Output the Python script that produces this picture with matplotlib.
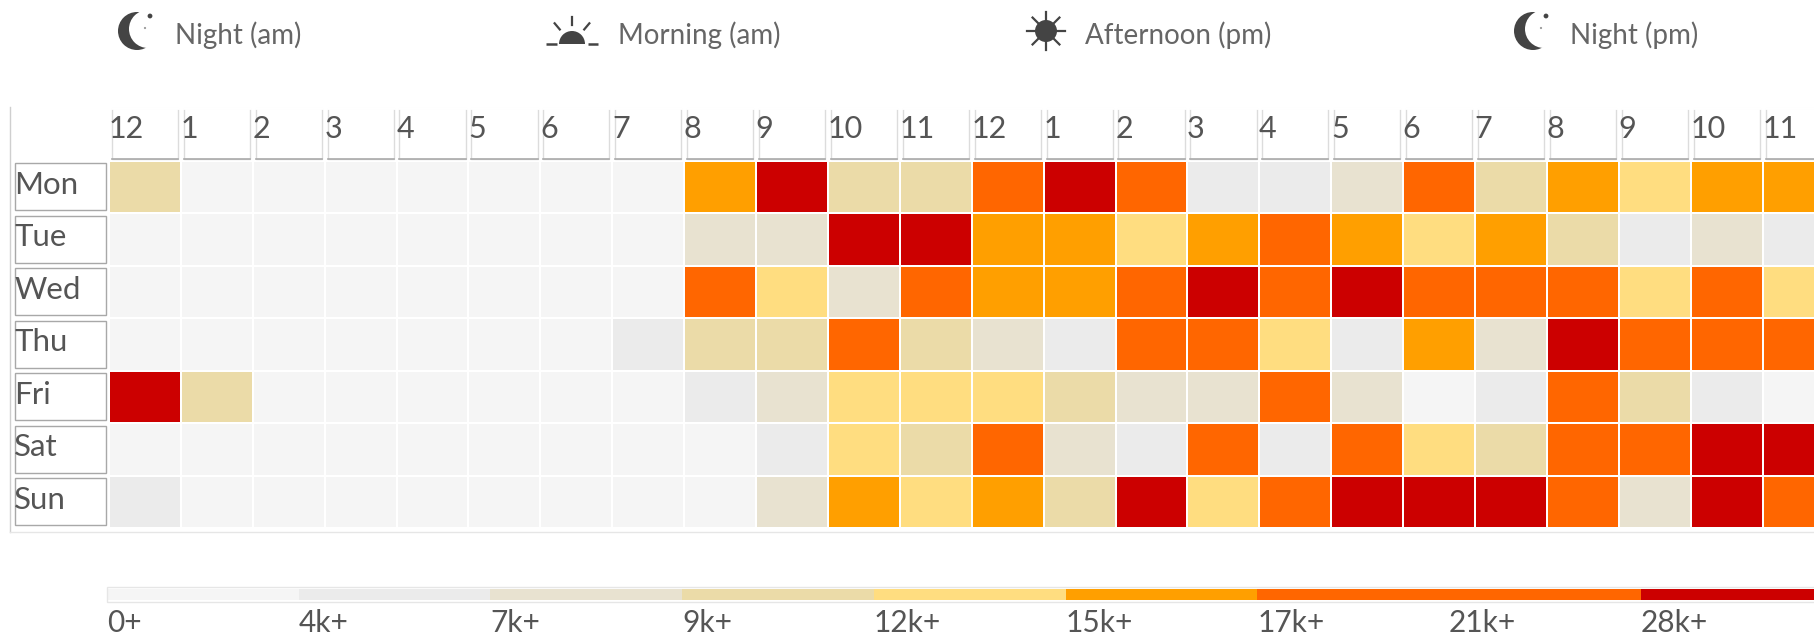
import numpy as np
import matplotlib
matplotlib.use('Agg')
import matplotlib.pyplot as plt
from matplotlib.colors import ListedColormap
from matplotlib.patches import Circle, Rectangle, Wedge

W, H = 1815, 635

days = ['Mon', 'Tue', 'Wed', 'Thu', 'Fri', 'Sat', 'Sun']
hours = ['12', '1', '2', '3', '4', '5', '6', '7', '8', '9', '10', '11',
         '12', '1', '2', '3', '4', '5', '6', '7', '8', '9', '10', '11']
# index into bucket_labels
mon = [3, 0, 0, 0, 0, 0, 0, 0, 5, 8, 3, 3, 7, 8, 7, 1, 1, 2, 7, 3, 5, 4, 5, 5]
tue = [0, 0, 0, 0, 0, 0, 0, 0, 2, 2, 8, 8, 5, 5, 4, 5, 7, 5, 4, 5, 3, 1, 2, 1]
wed = [0, 0, 0, 0, 0, 0, 0, 0, 7, 4, 2, 7, 5, 5, 7, 8, 7, 8, 7, 7, 7, 4, 7, 4]
thu = [0, 0, 0, 0, 0, 0, 0, 1, 3, 3, 7, 3, 2, 1, 7, 7, 4, 1, 5, 2, 8, 7, 7, 7]
fri = [8, 3, 0, 0, 0, 0, 0, 0, 1, 2, 4, 4, 4, 3, 2, 2, 7, 2, 0, 1, 7, 3, 1, 0]
sat = [0, 0, 0, 0, 0, 0, 0, 0, 0, 1, 4, 3, 7, 2, 1, 7, 1, 7, 4, 3, 7, 7, 8, 8]
sun = [1, 0, 0, 0, 0, 0, 0, 0, 0, 2, 5, 4, 5, 3, 8, 4, 7, 8, 8, 8, 7, 2, 8, 7]
bucket_labels = ['0+', '4k+', '7k+', '9k+', '12k+', '15k+', '17k+', '21k+', '28k+']
bucket_colors = ['#f5f5f5', '#ebebeb', '#e8e2d0', '#ebdba8', '#ffdd80',
                 '#ff9f00', '#ff6600', '#ff6600', '#cc0000']
periods = ['Night (am)', 'Morning (am)', 'Afternoon (pm)', 'Night (pm)']

plt.rcParams['font.family'] = ['Lato', 'DejaVu Sans']
TXT = '#555555'
ICON = '#444444'


def px_axes(fig, x0, y0, x1, y1):
    # position given in image pixels, y going down
    return fig.add_axes([x0 / W, 1 - y1 / H, (x1 - x0) / W, (y1 - y0) / H])


def draw_moon(ax, cx, cy):
    ax.add_patch(Circle((cx, cy), 19, color=ICON, lw=0))
    ax.add_patch(Circle((cx + 11, cy - 2), 19, color='white', lw=0))
    ax.add_patch(Circle((cx + 13, cy - 15), 2.4, color=ICON, lw=0))
    ax.add_patch(Circle((cx + 8, cy - 3), 1.1, color='#999999', lw=0))


def draw_sunrise(ax, cx, cy):
    ax.add_patch(Wedge((cx, cy), 13, 180, 360, color=ICON, lw=0))
    ax.plot([cx - 26, cx - 15], [cy, cy], color=ICON, lw=1.8, solid_capstyle='butt')
    ax.plot([cx + 16, cx + 26], [cy, cy], color=ICON, lw=1.8, solid_capstyle='butt')
    for a in [50, 90, 130]:
        c, s = np.cos(np.radians(a)), np.sin(np.radians(a))
        ax.plot([cx + 19 * c, cx + 27 * c], [cy - 19 * s, cy - 27 * s], color=ICON, lw=1.6)


def draw_sun(ax, cx, cy):
    ax.add_patch(Circle((cx, cy), 11, color=ICON, lw=0))
    for a in range(0, 360, 45):
        c, s = np.cos(np.radians(a)), np.sin(np.radians(a))
        ax.plot([cx + 10 * c, cx + 19 * c], [cy - 10 * s, cy - 19 * s], color=ICON, lw=1.6)


fig = plt.figure(figsize=(W / 100, H / 100), dpi=100, facecolor='white')

# pixel layer for frame lines and the period icons
deco = px_axes(fig, 0, 0, W, H)
deco.set_xlim(0, W)
deco.set_ylim(H, 0)
deco.axis('off')
deco.plot([10, 10], [107, 532], color='#cfcfcf', lw=1)
deco.plot([10, W], [532, 532], color='#e6e6e6', lw=1)
draw_moon(deco, 137, 31)
draw_sunrise(deco, 572, 44)
draw_sun(deco, 1046, 31)
draw_moon(deco, 1533, 31)
for label, x in zip(periods, [175, 618, 1085, 1570]):
    deco.text(x, 35, label, fontsize=20, color='#666666', ha='left', va='center')

# heat grid, last columns run off the right edge
ax = px_axes(fig, 109, 160.5, 109 + 24 * 71.9, 528)
grid = np.array([mon, tue, wed, thu, fri, sat, sun])
cmap = ListedColormap(bucket_colors)
ax.pcolormesh(grid, cmap=cmap, vmin=-0.5, vmax=8.5, edgecolors='white', linewidth=1.3)
ax.set_xlim(0, 24)
ax.set_ylim(7, 0)
ax.axis('off')

for i, h in enumerate(hours):
    ax.add_patch(Rectangle((i + 0.04, -1.0), 0.92, 0.97, fc='white', ec='#dcdcdc',
                           lw=1, clip_on=False))
    ax.plot([i + 0.04, i + 0.96], [-0.03, -0.03], color='#aaaaaa', lw=1.2, clip_on=False)
    ax.plot([i + 0.04, i + 0.96], [-1.0, -1.0], color='white', lw=2, clip_on=False)
    ax.text(i - 0.005, -0.6, h, fontsize=22, color=TXT, ha='left', va='center')

for j, d in enumerate(days):
    ax.add_patch(Rectangle((-1.31, j + 0.05), 1.27, 0.9, fc='white', ec='#a8a8a8',
                           lw=1, clip_on=False))
    ax.text(-1.315, j + 0.46, d, fontsize=22.5, color=TXT, ha='left', va='center')

# bucket legend
leg = px_axes(fig, 107, 589, 107 + 9 * 191.7, 600)
leg.pcolormesh(np.arange(9).reshape(1, -1), cmap=cmap, vmin=-0.5, vmax=8.5)
leg.set_xlim(0, 9)
leg.set_ylim(0, 1)
leg.axis('off')
leg.add_patch(Rectangle((0, -0.2), 9, 1.4, fc='none', ec='#e6e6e6', lw=1, clip_on=False))
for i, label in enumerate(bucket_labels):
    leg.text(i + 0.0, -2.1, label, fontsize=21.5, color=TXT, ha='left', va='center')

fig.savefig('out.png', dpi=100)
